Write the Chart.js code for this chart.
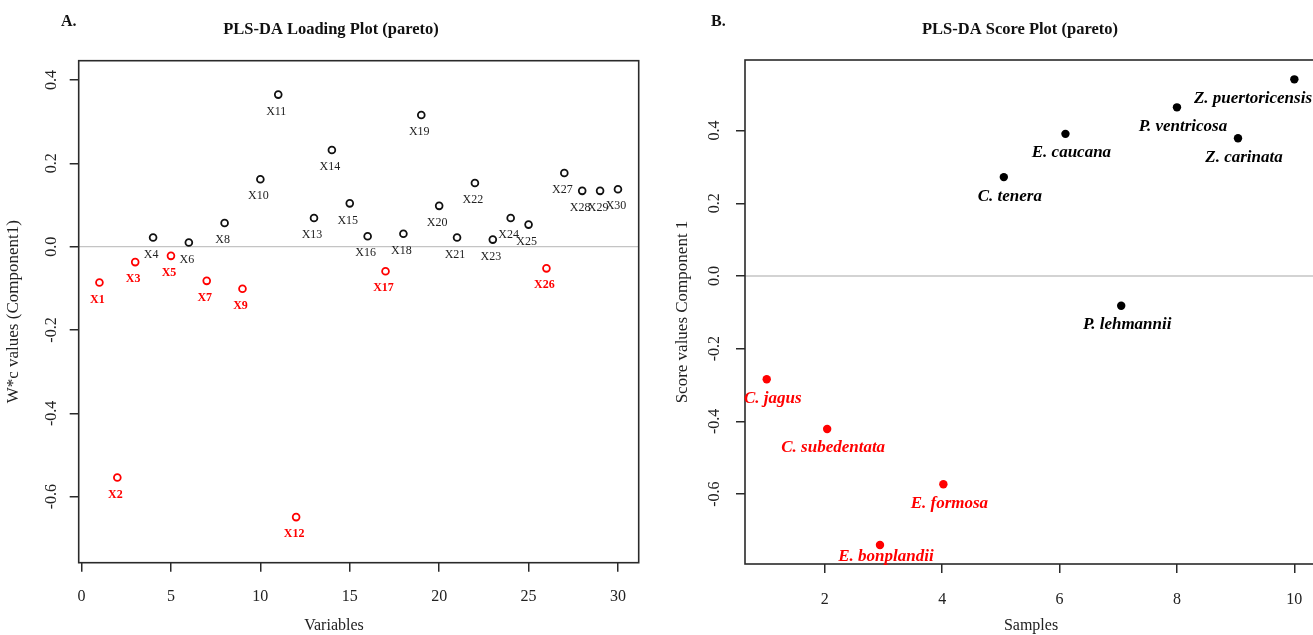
<!DOCTYPE html>
<html>
<head>
<meta charset="utf-8">
<script src="https://cdn.jsdelivr.net/npm/chart.js@4/dist/chart.umd.min.js"></script>
<style>
  html, body { margin:0; padding:0; background:#fff; overflow:hidden; width:1313px; height:635px; }
  #pa { position:absolute; left:0; top:0; }
  #pb { position:absolute; left:656px; top:0; }
</style>
</head>
<body>
<canvas id="pa" width="656" height="635"></canvas>
<canvas id="pb" width="664" height="635"></canvas>
<script>
// ---------- Data ----------
const variableNames = ['X1','X2','X3','X4','X5','X6','X7','X8','X9','X10','X11','X12','X13','X14','X15',
                       'X16','X17','X18','X19','X20','X21','X22','X23','X24','X25','X26','X27','X28','X29','X30'];
const variableIndex = [1,2,3,4,5,6,7,8,9,10,11,12,13,14,15,16,17,18,19,20,21,22,23,24,25,26,27,28,29,30];
const loadings = [-0.086,-0.554,-0.037,0.022,-0.022,0.010,-0.082,0.057,-0.101,0.162,
                  0.365,-0.649,0.069,0.232,0.104,0.025,-0.059,0.031,0.316,0.098,
                  0.022,0.153,0.017,0.069,0.053,-0.052,0.177,0.134,0.134,0.138];
const loadingGroup = ['neg','neg','neg','pos','neg','pos','neg','pos','neg','pos',
                      'pos','neg','pos','pos','pos','pos','neg','pos','pos','pos',
                      'pos','pos','pos','pos','pos','neg','pos','pos','pos','pos'];
const loadingXTicks = [0,5,10,15,20,25,30];
const loadingYTicks = [-0.6,-0.4,-0.2,0.0,0.2,0.4];

const sampleNames = ['C. jagus','C. subedentata','E. bonplandii','E. formosa','C. tenera',
                     'E. caucana','P. lehmannii','P. ventricosa','Z. carinata','Z. puertoricensis'];
const sampleIndex = [1.01,2.04,2.94,4.02,5.05,6.1,7.05,8.0,9.04,10.0];
const scores = [-0.284,-0.421,-0.740,-0.573,0.272,0.391,-0.082,0.464,0.379,0.541];
const sampleGroup = ['neg','neg','neg','neg','pos','pos','pos','pos','pos','pos'];
const scoreXTicks = [2,4,6,8,10];
const scoreYTicks = [-0.6,-0.4,-0.2,0.0,0.2,0.4];

// ---------- Styles ----------
const SERIF = '"Liberation Serif", "Times New Roman", serif';
const RED = '#ff0000';
const BLACK = '#000000';
const AXIS = '#2a2a2a';

function framePlugin(cfg) {
  return {
    id: 'frame' + cfg.tag,
    beforeDatasetsDraw(chart) {
      const ctx = chart.ctx, a = chart.chartArea;
      const y0 = chart.scales.y.getPixelForValue(0);
      ctx.save();
      ctx.strokeStyle = '#c4c4c4';
      ctx.lineWidth = 1.3;
      ctx.beginPath();
      ctx.moveTo(a.left, y0); ctx.lineTo(a.right, y0);
      ctx.stroke();
      ctx.restore();
    },
    afterDraw(chart) {
      const ctx = chart.ctx, a = chart.chartArea;
      ctx.save();
      ctx.strokeStyle = AXIS;
      ctx.lineWidth = 1.6;
      ctx.strokeRect(a.left, a.top, a.right - a.left, a.bottom - a.top);
      const meta = chart.getDatasetMeta(0);
      ctx.textAlign = 'center';
      ctx.textBaseline = 'middle';
      meta.data.forEach((pt, i) => {
        const neg = cfg.groups[i] === 'neg';
        ctx.fillStyle = neg ? RED : cfg.posColor;
        ctx.font = neg ? cfg.negFont : cfg.posFont;
        const txt = cfg.labels[i];
        const w = ctx.measureText(txt).width;
        let x = pt.x + cfg.dx;
        let y = pt.y + cfg.dy;
        if (x + w / 2 > cfg.maxX) x = cfg.maxX - w / 2;
        if (y + cfg.half > a.bottom) y = a.bottom - cfg.half;
        ctx.fillText(txt, x, y);
      });
      ctx.fillStyle = '#111';
      ctx.font = 'bold 16px ' + SERIF;
      ctx.textAlign = 'left';
      ctx.fillText(cfg.panel, cfg.panelX, 22);
      ctx.textAlign = 'center';
      ctx.font = 'bold 16.5px ' + SERIF;
      ctx.fillText(cfg.title, cfg.titleX, 30);
      ctx.font = '16px ' + SERIF;
      ctx.fillStyle = '#222';
      ctx.fillText(cfg.xTitle, cfg.xTitleX, 626);
      ctx.save();
      ctx.translate(cfg.yTitleX, (a.top + a.bottom) / 2);
      ctx.rotate(-Math.PI / 2);
      ctx.font = '17px ' + SERIF;
      ctx.fillText(cfg.yTitle, 0, 0);
      ctx.restore();
      ctx.restore();
    }
  };
}

function axisCommon(ticksArr, fit, isY, pad, fmt) {
  const o = {
    type: 'linear',
    afterBuildTicks: s => { s.ticks = ticksArr.map(v => ({ value: v })); },
    afterFit: fit,
    grid: { drawOnChartArea: false, drawTicks: true, tickLength: 9, color: AXIS, lineWidth: 1.5 },
    border: { display: false },
    ticks: { padding: pad, color: '#222', font: { family: SERIF, size: 16 }, autoSkip: false,
             callback: fmt }
  };
  if (isY) { o.ticks.minRotation = 90; o.ticks.maxRotation = 90; o.ticks.crossAlign = 'center'; }
  else { o.ticks.minRotation = 0; o.ticks.maxRotation = 0; }
  return o;
}

// ---------- Panel A ----------
const xA = axisCommon(loadingXTicks, s => { s.height = 72.3; }, false, 15.5, v => String(v));
xA.min = -0.16; xA.max = 31.16;
const yA = axisCommon(loadingYTicks, s => { s.width = 78.7; }, true, 5, v => Number(v).toFixed(1));
yA.min = -0.7584; yA.max = 0.4464;

new Chart(document.getElementById('pa'), {
  type: 'scatter',
  data: { datasets: [{
    data: variableIndex.map((x, i) => ({ x: x, y: loadings[i] })),
    pointRadius: 3.4, pointHoverRadius: 3.4, pointBorderWidth: 1.8,
    pointBackgroundColor: 'rgba(0,0,0,0)',
    pointBorderColor: loadingGroup.map(g => g === 'neg' ? RED : '#111')
  }]},
  options: {
    responsive: false, animation: false, events: [],
    layout: { padding: { left: 0, right: 17.3, top: 60.7, bottom: 0 } },
    plugins: { legend: { display: false }, tooltip: { enabled: false }, title: { display: false } },
    scales: { x: xA, y: yA }
  },
  plugins: [framePlugin({
    tag: 'A', groups: loadingGroup, labels: variableNames, dx: -2, dy: 17, half: 6, maxX: 654,
    posColor: '#222', posFont: '12px ' + SERIF, negFont: 'bold 12px ' + SERIF,
    panel: 'A.', panelX: 61, title: 'PLS-DA Loading Plot (pareto)', titleX: 331,
    xTitle: 'Variables', xTitleX: 334, yTitle: 'W*c values (Component1)', yTitleX: 14
  })]
});

// ---------- Panel B ----------
const xB = axisCommon(scoreXTicks, s => { s.height = 71; }, false, 17.5, v => String(v));
xB.min = 0.64; xB.max = 10.36;
const yB = axisCommon(scoreYTicks, s => { s.width = 89; }, true, 9, v => Number(v).toFixed(1));
yB.min = -0.7923; yB.max = 0.5942;

new Chart(document.getElementById('pb'), {
  type: 'scatter',
  data: { datasets: [{
    data: sampleIndex.map((x, i) => ({ x: x, y: scores[i] })),
    pointRadius: 4.2, pointHoverRadius: 4.2, pointBorderWidth: 0,
    pointBackgroundColor: sampleGroup.map(g => g === 'neg' ? RED : BLACK),
    pointBorderColor: sampleGroup.map(g => g === 'neg' ? RED : BLACK)
  }]},
  options: {
    responsive: false, animation: false, events: [],
    layout: { padding: { left: 0, right: 4, top: 60, bottom: 0 } },
    plugins: { legend: { display: false }, tooltip: { enabled: false }, title: { display: false } },
    scales: { x: xB, y: yB }
  },
  plugins: [framePlugin({
    tag: 'B', groups: sampleGroup, labels: sampleNames, dx: 6, dy: 19, half: 7.5, maxX: 656,
    posColor: '#000', posFont: 'italic bold 17px ' + SERIF, negFont: 'italic bold 17px ' + SERIF,
    panel: 'B.', panelX: 55, title: 'PLS-DA Score Plot (pareto)', titleX: 364,
    xTitle: 'Samples', xTitleX: 375, yTitle: 'Score values Component 1', yTitleX: 27
  })]
});
</script>
</body>
</html>
